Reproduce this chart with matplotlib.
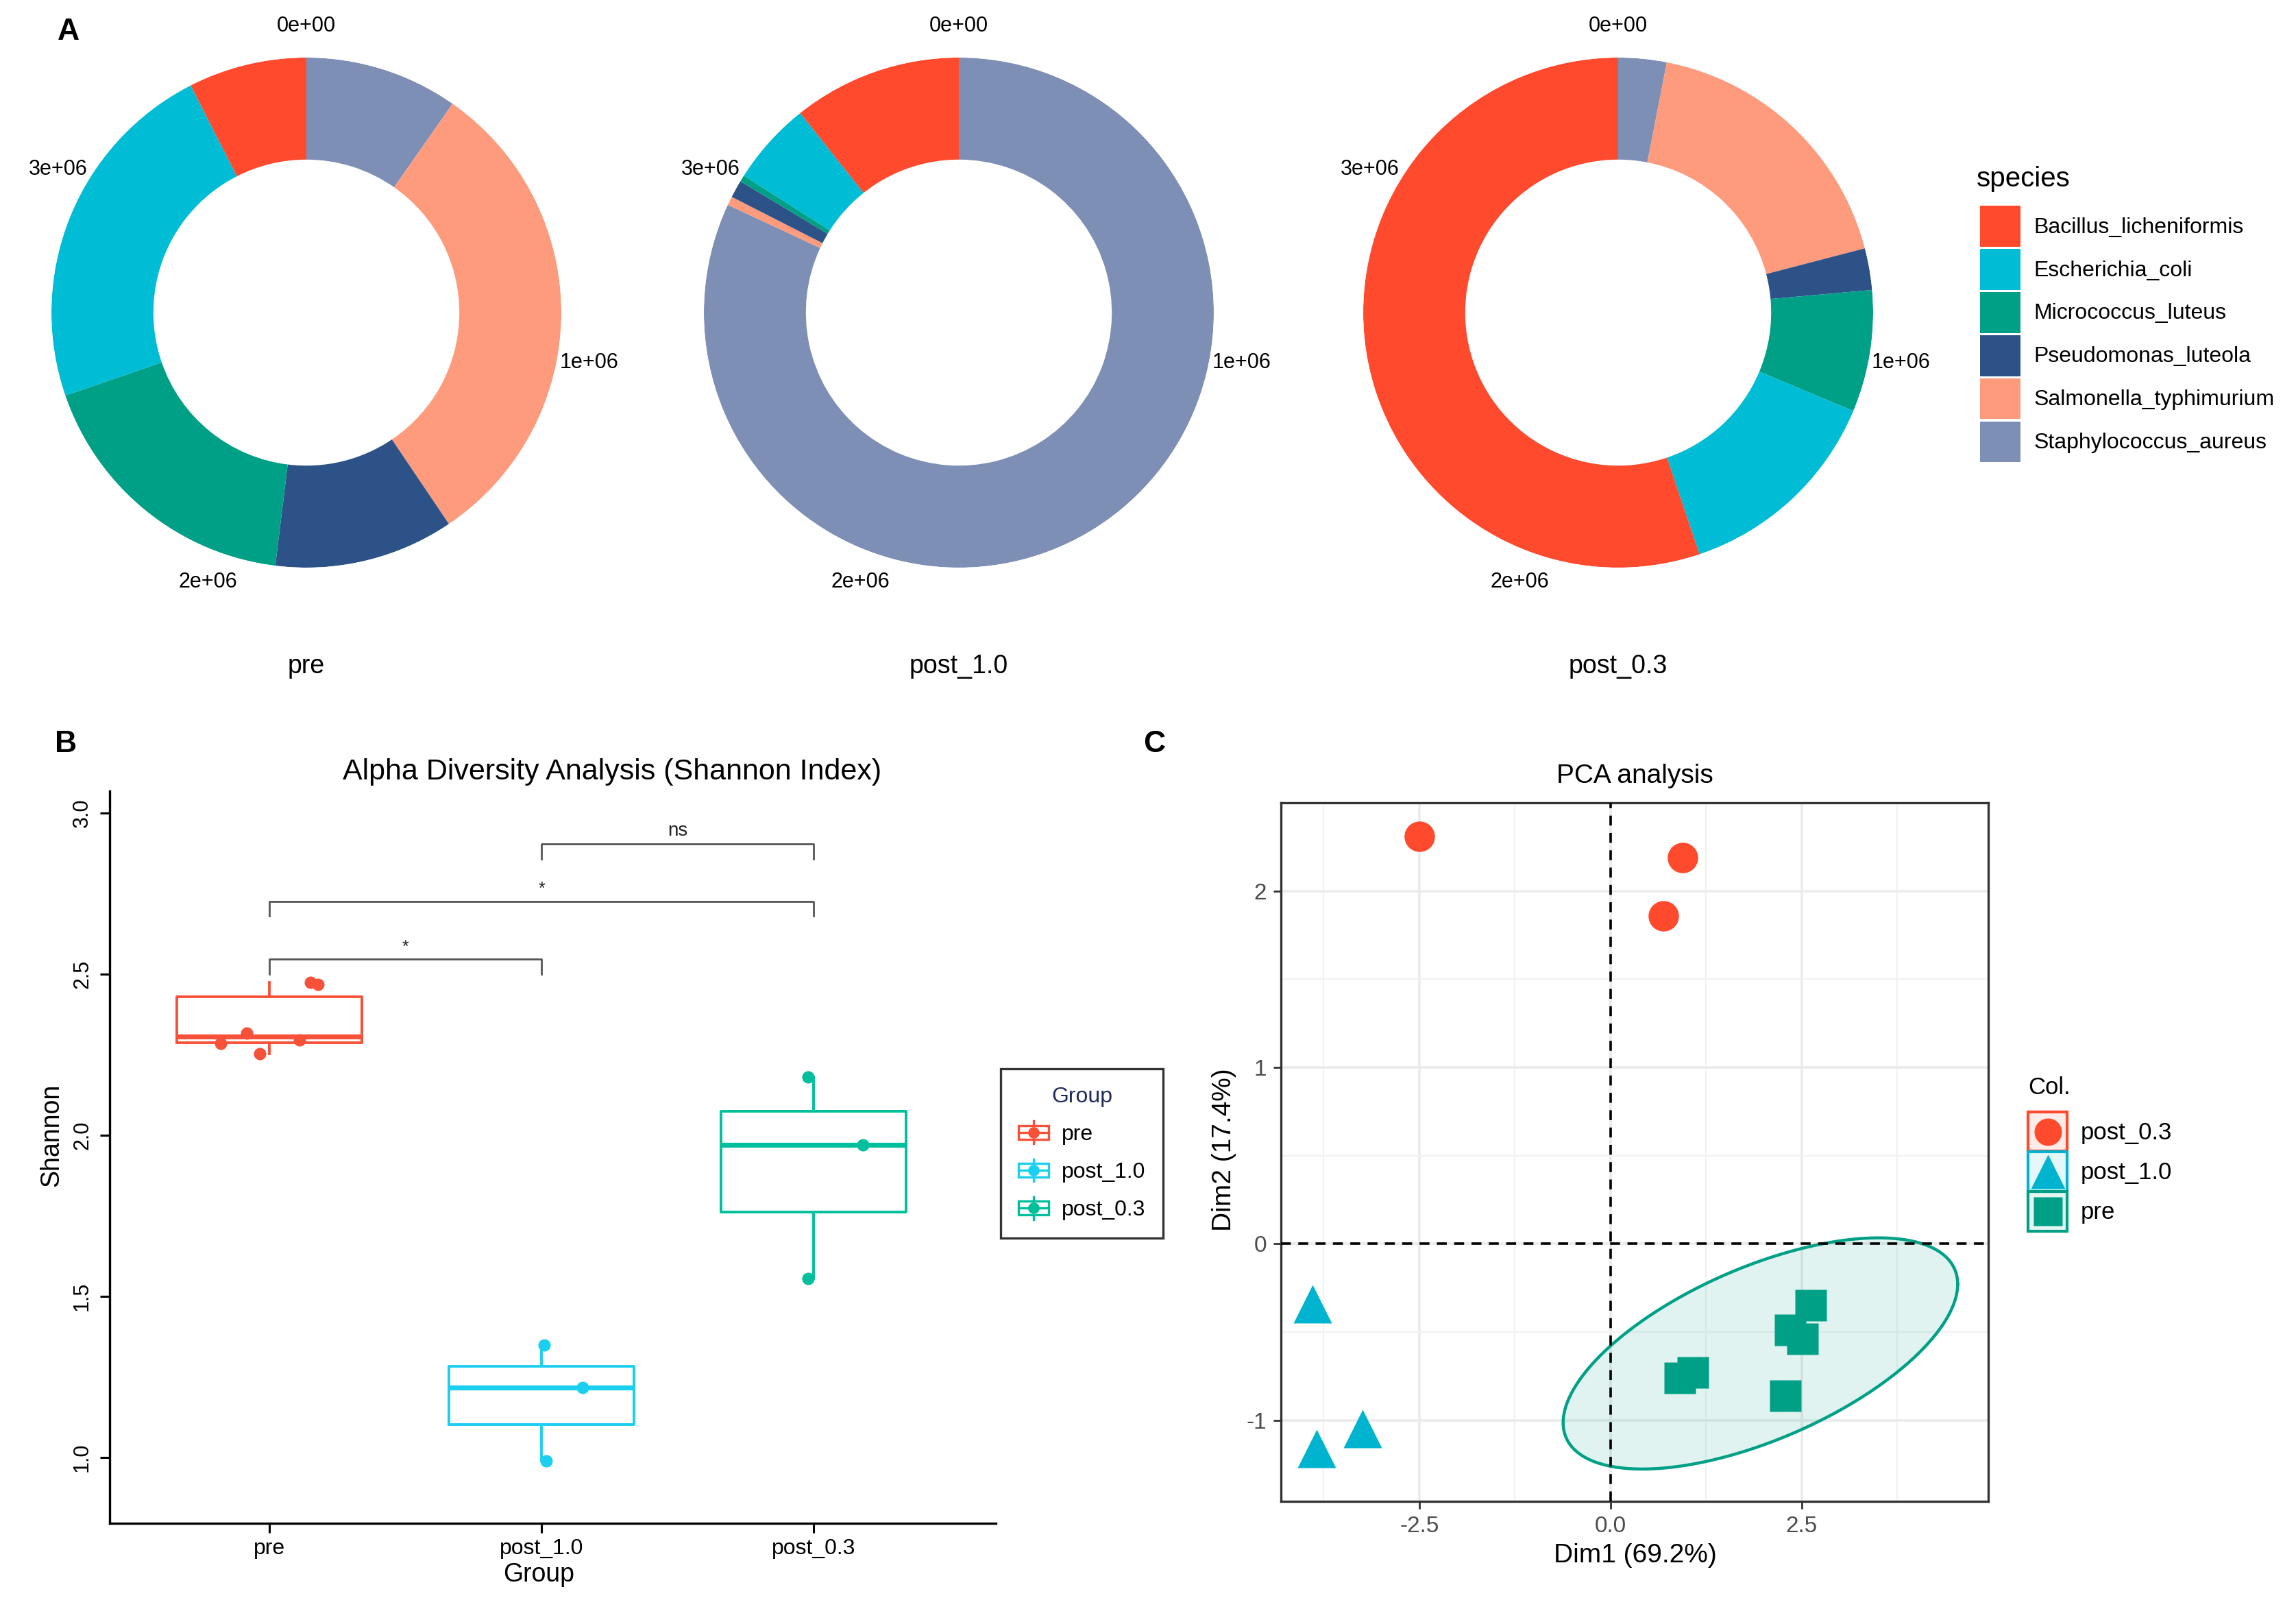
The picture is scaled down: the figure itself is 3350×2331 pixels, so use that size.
import numpy as np
import matplotlib.pyplot as plt
from matplotlib.legend_handler import HandlerBase
from matplotlib.patches import Rectangle, Patch
from matplotlib.lines import Line2D

plt.rcParams['font.family'] = ['Liberation Sans', 'DejaVu Sans']
plt.rcParams['axes.unicode_minus'] = False

W, H = 3350, 2331

# ---- panel A: species abundance per sample (donuts)
species = ['Bacillus_licheniformis', 'Escherichia_coli', 'Micrococcus_luteus',
           'Pseudomonas_luteola', 'Salmonella_typhimurium', 'Staphylococcus_aureus']
species_colors = ['#FF4A2E', '#00BCD4', '#00A087', '#2C5287', '#FF9B7D', '#7E8FB5']
samples = ['pre', 'post_1.0', 'post_0.3']
counts_pre = [270000, 820000, 640000, 410000, 1110000, 350000]
counts_post10 = [385000, 190000, 15000, 40000, 20000, 2950000]
counts_post03 = [1986000, 487000, 278000, 95000, 644000, 110000]
theta_ticks = [0, 1e6, 2e6, 3e6]
theta_labels = ['0e+00', '1e+06', '2e+06', '3e+06']

# ---- panel B: Shannon index
groups = ['pre', 'post_1.0', 'post_0.3']
group_colors = ['#F8513A', '#1BCFF0', '#00BF9C']
shannon_pre = [2.285, 2.316, 2.254, 2.295, 2.475, 2.468]
jitter_pre = [-0.18, -0.085, -0.037, 0.11, 0.15, 0.177]
shannon_post10 = [1.349, 1.2175, 0.989]
jitter_post10 = [0.01, 0.15, 0.016]
shannon_post03 = [2.18, 1.97, 1.555]
jitter_post03 = [-0.02, 0.18, -0.02]
comparisons = [(1, 2, '*'), (1, 3, '*'), (2, 3, 'ns')]
bracket_y = [2.546, 2.726, 2.904]

# ---- panel C: PCA
pca_groups = ['post_0.3', 'post_1.0', 'pre']
pca_colors = ['#FF4A2E', '#00B4D0', '#00A087']
pca_markers = ['o', '^', 's']
dim1_post03 = [-2.50, 0.94, 0.69]
dim2_post03 = [2.31, 2.19, 1.86]
dim1_post10 = [-3.90, -3.84, -3.24]
dim2_post10 = [-0.34, -1.16, -1.05]
dim1_pre = [2.62, 2.35, 2.51, 1.08, 0.91, 2.29]
dim2_pre = [-0.35, -0.49, -0.54, -0.73, -0.76, -0.86]

fig = plt.figure(figsize=(W / 200, H / 200), dpi=200)


def px_axes(l, t, r, b, **kw):
    return fig.add_axes([l / W, 1 - b / H, (r - l) / W, (b - t) / H], **kw)


# ---------------- A
total = max(sum(counts_pre), sum(counts_post10), sum(counts_post03))
R = 372
centers = [(447, 456), (1399, 456), (2361, 456)]
for (cx, cy), name, counts in zip(centers, samples,
                                   [counts_pre, counts_post10, counts_post03]):
    ax = px_axes(cx - R, cy - R, cx + R, cy + R, projection='polar')
    ax.set_theta_zero_location('N')
    ax.set_theta_direction(-1)
    start = 0
    for c, col in zip(counts[::-1], species_colors[::-1]):
        w = 2 * np.pi * c / total
        ax.bar(2 * np.pi * start / total + w / 2, 0.4, width=w, bottom=0.6,
               color=col, linewidth=0)
        start += c
    ax.set_ylim(0, 1)
    ax.set_xticks([])
    ax.set_yticks([])
    ax.grid(False)
    ax.spines['polar'].set_visible(False)
    for v, lab in zip(theta_ticks, theta_labels):
        ax.text(2 * np.pi * v / total, 1.125, lab, ha='center', va='center',
                fontsize=11, clip_on=False)
    fig.text(cx / W, 1 - 972 / H, name, ha='center', va='center', fontsize=13.5)

fig.text(2884 / W, 1 - 261 / H, 'species', ha='left', va='center', fontsize=14.5)
fig.legend([Patch(facecolor=c, edgecolor='none') for c in species_colors], species,
           loc='upper left', bbox_to_anchor=(2889 / W, 1 - 300 / H),
           fontsize=11.5, frameon=False,
           handlelength=1.85, handleheight=2.5,
           labelspacing=0.1, handletextpad=0.6, borderpad=0, borderaxespad=0)

fig.text(100 / W, 1 - 47 / H, 'A', fontsize=16, fontweight='bold',
         ha='center', va='center')

# ---------------- B
axb = px_axes(160, 1154, 1453, 2222)
vals = [shannon_pre, shannon_post10, shannon_post03]
jits = [jitter_pre, jitter_post10, jitter_post03]
for i, (v, j, col) in enumerate(zip(vals, jits, group_colors)):
    pos = i + 1
    axb.boxplot([v], positions=[pos], widths=0.68, showfliers=False, showcaps=False,
                boxprops=dict(color=col, lw=1.4),
                whiskerprops=dict(color=col, lw=1.4),
                medianprops=dict(color=col, lw=2.6))
    axb.plot(pos + np.array(j), v, 'o', color=col, ms=5.5, zorder=3)

for (a, b, lab), y in zip(comparisons, bracket_y):
    axb.plot([a, a, b, b], [y - 0.046, y, y, y - 0.046], color='#555555', lw=1.0)
    axb.text((a + b) / 2, y + 0.012, lab, ha='center', va='bottom',
             fontsize=10 if lab == 'ns' else 9, color='#222222')

axb.set_xlim(0.412, 3.67)
axb.set_ylim(0.796, 3.068)
axb.set_xticks([1, 2, 3], groups)
axb.set_yticks([1.0, 1.5, 2.0, 2.5, 3.0], ['1.0', '1.5', '2.0', '2.5', '3.0'])
axb.tick_params(axis='y', labelrotation=90, labelsize=11, length=5, width=1.1, pad=4)
axb.tick_params(axis='x', labelsize=11.5, length=5, width=1.1, pad=3)
for lbl in axb.get_yticklabels():
    lbl.set_va('center')
for s in ['top', 'right']:
    axb.spines[s].set_visible(False)
for s in ['left', 'bottom']:
    axb.spines[s].set_linewidth(1.2)
fig.text(75 / W, 1 - 1656 / H, 'Shannon', rotation=90, ha='center', va='center',
         fontsize=13.5)
fig.text(786 / W, 1 - 2297 / H, 'Group', ha='center', va='center', fontsize=13.5)
fig.text(893 / W, 1 - 1126 / H, 'Alpha Diversity Analysis (Shannon Index)',
         ha='center', va='center', fontsize=15.5)
fig.text(96 / W, 1 - 1085 / H, 'B', fontsize=16, fontweight='bold',
         ha='center', va='center')


class BoxKey(HandlerBase):
    def create_artists(self, legend, orig_handle, xdescent, ydescent, width,
                       height, fontsize, trans):
        c = orig_handle.get_color()
        x0, y0 = -xdescent, -ydescent
        cx, cy = x0 + width / 2, y0 + height / 2
        arts = [
            Rectangle((x0, y0 + height * 0.12), width, height * 0.76, fill=False,
                      edgecolor=c, lw=1.2, transform=trans),
            Line2D([x0, x0 + width], [cy, cy], color=c, lw=1.2, transform=trans),
            Line2D([cx, cx], [y0 + height * 0.88, y0 + height * 1.12], color=c,
                   lw=1.2, transform=trans),
            Line2D([cx, cx], [y0 - height * 0.12, y0 + height * 0.12], color=c,
                   lw=1.2, transform=trans),
            Line2D([cx], [cy], marker='o', ms=5, color=c, transform=trans),
        ]
        return arts


legb = fig.legend([Line2D([], [], color=c) for c in group_colors], groups,
                  handler_map={Line2D: BoxKey()},
                  loc='upper left', bbox_to_anchor=(1460 / W, 1 - 1559 / H),
                  title='Group', title_fontsize=11.5, fontsize=11.5,
                  frameon=True, fancybox=False, edgecolor='black',
                  handlelength=1.4, handleheight=0.9, labelspacing=0.75,
                  handletextpad=0.6, borderpad=0.8, borderaxespad=0)
legb.get_frame().set_linewidth(1.2)
legb.get_title().set_color('#1F2A5C')

# ---------------- C
axc = px_axes(1869, 1171, 2901, 2190)
axc.set_xlim(-4.31, 4.94)
axc.set_ylim(-1.46, 2.50)
axc.set_xticks([-2.5, 0, 2.5], ['-2.5', '0.0', '2.5'])
axc.set_xticks([-3.75, -1.25, 1.25, 3.75], minor=True)
axc.set_yticks([-1, 0, 1, 2], ['-1', '0', '1', '2'])
axc.set_yticks([-0.5, 0.5, 1.5], minor=True)
axc.grid(which='major', color='#EBEBEB', lw=1.3)
axc.grid(which='minor', color='#F2F2F2', lw=0.8)
axc.set_axisbelow(True)
axc.tick_params(which='minor', length=0)
axc.tick_params(which='major', labelsize=12, labelcolor='#4D4D4D', color='#333333',
                length=4, width=1.0)
for s in axc.spines.values():
    s.set_color('#333333')
    s.set_linewidth(1.2)

# confidence ellipse of the pre group (t-based, 95%)
pts = np.column_stack([dim1_pre, dim2_pre])
mu = pts.mean(axis=0)
L = np.linalg.cholesky(np.cov(pts.T))
t = np.linspace(0, 2 * np.pi, 200)
circ = np.column_stack([np.cos(t), np.sin(t)])
ell = mu + np.sqrt(2 * 5.786) * circ @ L.T
axc.fill(ell[:, 0], ell[:, 1], facecolor='#00A087', alpha=0.12, zorder=2)
axc.plot(ell[:, 0], ell[:, 1], color='#00A087', lw=1.6, zorder=2)

axc.axhline(0, color='black', ls=(0, (4, 3)), lw=1.3, zorder=3)
axc.axvline(0, color='black', ls=(0, (4, 3)), lw=1.3, zorder=3)

pca_x = [dim1_post03, dim1_post10, dim1_pre]
pca_y = [dim2_post03, dim2_post10, dim2_pre]
sizes = [16, 20, 16.5]
for xs, ys, col, mk, ms in zip(pca_x, pca_y, pca_colors, pca_markers, sizes):
    axc.plot(xs, ys, mk, color=col, ms=ms, mec='none', zorder=4)

fig.text(2385 / W, 1 - 1132 / H, 'PCA analysis', ha='center', va='center', fontsize=14)
fig.text(2386 / W, 1 - 2269 / H, 'Dim1 (69.2%)', ha='center', va='center', fontsize=14)
fig.text(1786 / W, 1 - 1677 / H, 'Dim2 (17.4%)', rotation=90, ha='center',
         va='center', fontsize=14)
fig.text(1684 / W, 1 - 1085 / H, 'C', fontsize=16, fontweight='bold',
         ha='center', va='center')


class PcaKey(HandlerBase):
    def create_artists(self, legend, orig_handle, xdescent, ydescent, width,
                       height, fontsize, trans):
        c = orig_handle.get_color()
        x0, y0 = -xdescent, -ydescent
        box = Rectangle((x0, y0), width, height, facecolor=c, alpha=0.1,
                        edgecolor='none', transform=trans)
        edge = Rectangle((x0, y0), width, height, fill=False, edgecolor=c, lw=1.5,
                         transform=trans)
        mk = Line2D([x0 + width / 2], [y0 + height / 2],
                    marker=orig_handle.get_marker(), ms=orig_handle.get_markersize(),
                    color=c, mec='none', transform=trans)
        return [box, edge, mk]


fig.text(2959 / W, 1 - 1587 / H, 'Col.', ha='left', va='center', fontsize=12.5)
fig.legend([Line2D([], [], color=c, marker=m, ms=s * 0.9)
            for c, m, s in zip(pca_colors, pca_markers, sizes)], pca_groups,
           handler_map={Line2D: PcaKey()},
           loc='upper left', bbox_to_anchor=(2959 / W, 1 - 1622 / H),
           fontsize=12.5, frameon=False,
           handlelength=1.65, handleheight=2.17,
           labelspacing=0.02, handletextpad=0.55, borderpad=0, borderaxespad=0)

fig.savefig('out.png', dpi=200, facecolor='white')
